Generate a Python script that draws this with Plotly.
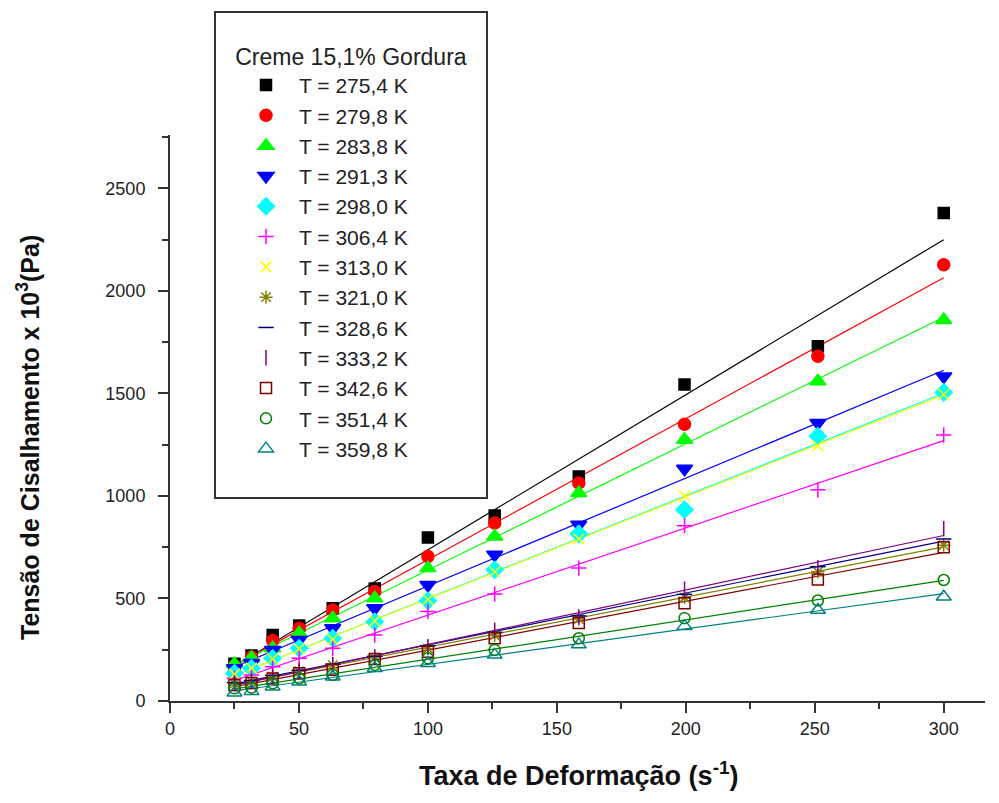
import numpy as np
import plotly.graph_objects as go

shear_rate = [25.0, 31.6, 39.8, 50.1, 63.1, 79.4, 100.0, 125.9, 158.5, 199.5, 251.2, 300.0]

temps = ["T = 275,4 K", "T = 279,8 K", "T = 283,8 K", "T = 291,3 K", "T = 298,0 K",
         "T = 306,4 K", "T = 313,0 K", "T = 321,0 K", "T = 328,6 K", "T = 333,2 K",
         "T = 342,6 K", "T = 351,4 K", "T = 359,8 K"]

s_275 = [182, 222, 322, 368, 452, 548, 797, 905, 1095, 1543, 1730, 2380]
s_279 = [172, 215, 295, 355, 444, 534, 705, 868, 1063, 1350, 1681, 2127]
s_283 = [180, 210, 257, 330, 404, 501, 648, 802, 1014, 1274, 1559, 1858]
s_291 = [160, 185, 249, 298, 355, 452, 566, 713, 859, 1132, 1356, 1582]
s_298 = [135, 160, 208, 257, 306, 387, 489, 640, 815, 933, 1291, 1505]
s_306 = [111, 127, 167, 208, 257, 322, 436, 522, 648, 855, 1030, 1297]
s_313 = [130, 160, 205, 255, 300, 390, 495, 630, 790, 1000, 1245, 1495]
s_321 = [85, 95, 118, 145, 175, 210, 255, 320, 400, 505, 630, 760]
s_328 = [90, 100, 125, 150, 180, 218, 270, 335, 415, 520, 655, 790]
s_333 = [88, 98, 122, 148, 178, 215, 265, 345, 410, 545, 650, 840]
s_342 = [78, 88, 110, 135, 152, 205, 240, 306, 380, 477, 593, 750]
s_351 = [62, 65, 86, 110, 127, 176, 208, 249, 306, 404, 490, 590]
s_359 = [40, 48, 70, 94, 118, 160, 184, 225, 275, 365, 444, 508]

series = [s_275, s_279, s_283, s_291, s_298, s_306, s_313, s_321, s_328, s_333, s_342, s_351, s_359]

colors = ["#000000", "#FF0000", "#00FF00", "#0000FF", "#00FFFF", "#FF00FF", "#FFFF00",
          "#808000", "#000080", "#800080", "#800000", "#008000", "#008080"]
symbols = ["square", "circle", "triangle-up", "triangle-down", "diamond", "cross-thin",
           "x-thin", "asterisk", "line-ew", "line-ns", "square-open", "circle-open",
           "triangle-up-open"]
sizes = [11, 12, 14, 14, 13, 11, 11, 11, 11, 11, 11, 11, 13]

FONT = "Liberation Sans, Arial"

fig = go.Figure()
x = np.array(shear_rate)
xl = np.array([x.min(), x.max()])
for i, ys in enumerate(series):
    slope, icpt = np.polyfit(x, np.array(ys, dtype=float), 1)
    fig.add_trace(go.Scatter(x=xl, y=slope * xl + icpt, mode="lines",
                             line=dict(color=colors[i], width=1.2),
                             showlegend=False, hoverinfo="skip"))
for i, ys in enumerate(series):
    fig.add_trace(go.Scatter(x=shear_rate, y=ys, mode="markers", name=temps[i],
                             marker=dict(symbol=symbols[i], size=sizes[i], color=colors[i],
                                         line=dict(color=colors[i], width=1.5))))

axis_common = dict(showgrid=False, zeroline=False, showline=True, linecolor="#333333",
                   linewidth=2, ticks="outside", ticklen=10, tickwidth=1.5, automargin=False,
                   tickcolor="#333333", tickfont=dict(family=FONT, size=18, color="#222222"))

fig.update_xaxes(range=[0, 316], dtick=50, tick0=0,
                 minor=dict(dtick=25, ticks="outside", ticklen=6, tickcolor="#333333", tickwidth=1.5),
                 **axis_common)
fig.update_yaxes(range=[0, 2760], dtick=500, tick0=0, ticklabelstandoff=9,
                 minor=dict(dtick=250, ticks="outside", ticklen=6, tickcolor="#333333", tickwidth=1.5),
                 **axis_common)

# screen pixel -> paper coordinates (plot area spans x 170..985, y 135..701 on screen)
def px(sx):
    return (sx - 170) / 815

def py(sy):
    return (701 - sy) / 566

# axis titles
fig.add_annotation(text="<b>Taxa de Deformação (s<sup>-1</sup>)</b>", xref="paper", yref="paper",
                   x=px(578), y=py(774), xanchor="center", yanchor="middle",
                   showarrow=False, font=dict(family=FONT, size=27, color="#111111"))
fig.add_annotation(text="<b>Tensão de Cisalhamento x 10<sup>3</sup>(Pa)</b>", xref="paper", yref="paper",
                   x=px(28), y=py(438), xanchor="center", yanchor="middle",
                   textangle=-90, showarrow=False, font=dict(family=FONT, size=25, color="#111111"))

fig.add_shape(type="rect", xref="paper", yref="paper",
              x0=px(215), x1=px(487), y0=py(498), y1=py(12),
              line=dict(color="#333333", width=2), fillcolor="rgba(0,0,0,0)")

# page body has an 8px margin, so the figure is shifted by 8px on screen
fig.update_layout(
    width=991, height=795,
    margin=dict(l=162, r=14, t=127, b=102, autoexpand=False),
    paper_bgcolor="white", plot_bgcolor="white",
    font=dict(family=FONT, color="#222222"),
    legend=dict(x=px(233), y=py(35), xanchor="left", yanchor="top",
                bgcolor="rgba(0,0,0,0)", borderwidth=0, maxheight=560,
                font=dict(family=FONT, size=21, color="#222222"),
                title=dict(text="Creme 15,1% Gordura", side="top center",
                           font=dict(family=FONT, size=23, color="#222222")),
                indentation=0, itemwidth=56, itemsizing="trace"),
)

fig.write_html("out.html")
